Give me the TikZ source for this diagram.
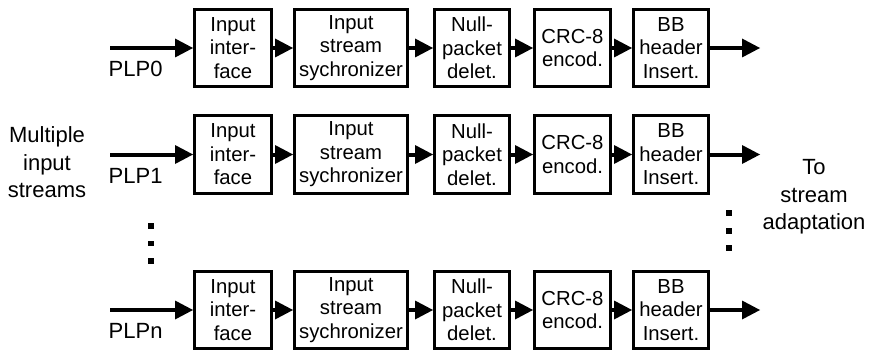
\documentclass[tikz,border=0pt]{standalone}
\usepackage{fontspec}
\setmainfont{Liberation Sans}
\usetikzlibrary{arrows.meta}
\begin{document}
\begin{tikzpicture}[x=1pt,y=-1pt,
  blk/.style={draw, line width=3pt, inner sep=0pt, align=center, minimum height=77pt,
    font=\fontsize{20.3}{23.5}\selectfont},
  flow/.style={line width=4pt, -{Triangle[length=18pt,width=19pt,line width=0pt]}},
  lbl/.style={font=\fontsize{22}{27.5}\selectfont, inner sep=0pt, align=center},
  plp/.style={font=\fontsize{22}{26}\selectfont, inner sep=0pt, anchor=base west}
]
\useasboundingbox (0,0) rectangle (869,350);
\foreach \r/\y/\p in {0/48/PLP0, 1/154.5/PLP1, n/310/PLPn}{
  \node[blk, minimum width=77pt]  (b\r1) at (233,\y)   {Input\\inter-\\face};
  \node[blk, minimum width=113pt] (b\r2) at (351,\y)   {Input\\stream\\sychronizer};
  \node[blk, minimum width=75pt]  (b\r3) at (472,\y)   {Null-\\packet\\delet.};
  \node[blk, minimum width=76pt]  (b\r4) at (572.5,\y) {CRC-8\\encod.};
  \node[blk, minimum width=75pt]  (b\r5) at (671,\y)   {BB\\header\\Insert.};
  \coordinate (in\r) at (110,\y);
  \coordinate (out\r) at (760,\y);
  \node[plp] (lab\r) at (108.5,\y+28.5) {\p};
  \draw[flow] (in\r) -- (b\r1.west);
  \draw[flow] (b\r1.east) -- (b\r2.west);
  \draw[flow] (b\r2.east) -- (b\r3.west);
  \draw[flow] (b\r3.east) -- (b\r4.west);
  \draw[flow] (b\r4.east) -- (b\r5.west);
  \draw[flow] (b\r5.east) -- (out\r);
}
\node[lbl, anchor=north] (multi) at (47,126.5) {Multiple\\input\\streams};
\node[lbl, anchor=north] (tostream) at (814,159.5) {To\\stream\\adaptation};
% vertical ellipsis dots
\foreach \yy in {226,243.5,261}{
  \fill (148.25,\yy-2.75) rectangle ++(5.5,5.5);
}
\foreach \yy in {213,231,248}{
  \fill (726.25,\yy-2.75) rectangle ++(5.5,5.5);
}
\end{tikzpicture}
\end{document}
